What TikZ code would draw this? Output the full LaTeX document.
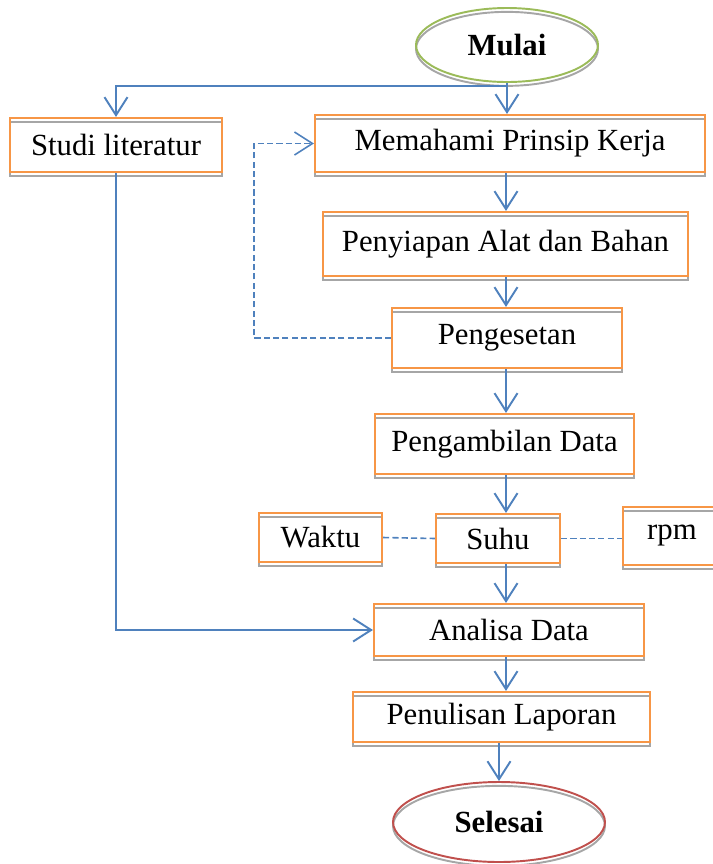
\documentclass[tikz,border=0pt]{standalone}
\usepackage{fontspec}
\setmainfont{Liberation Serif}
\usetikzlibrary{arrows.meta, positioning, calc, shapes.geometric}
\definecolor{boxborder}{HTML}{F79646}
\definecolor{shadowgray}{HTML}{A6A6A6}
\definecolor{flowblue}{HTML}{4F81BD}
\definecolor{startborder}{HTML}{9BBB59}
\definecolor{endborder}{HTML}{C0504D}
\tikzset{
  stepbox/.style={rectangle, draw=boxborder, line width=1.2pt, inner sep=0pt,
                  align=center, font=\fontsize{17.5}{20}\selectfont,
                  preaction={draw=shadowgray, line width=1.1pt,
                             transform canvas={yshift=-2.2pt}}},
  terminal/.style={ellipse, line width=1.1pt, inner sep=0pt,
                   font=\fontsize{17.5}{20}\selectfont\bfseries,
                   preaction={draw=shadowgray, line width=1.1pt,
                              transform canvas={yshift=-2.2pt}}},
  flow/.style={-{Straight Barb[length=3.6mm, width=4.6mm]}, line width=1.1pt, draw=flowblue},
  loopback/.style={flow, dash pattern=on 3.5pt off 1.8pt, line width=0.9pt},
  link/.style={draw=flowblue, dash pattern=on 3.5pt off 1.8pt, line width=0.9pt},
}
\def\loopgap{2.74cm}

\begin{document}
\begin{tikzpicture}
\clip (0,0) rectangle (14.26,-17.28);

% Start and the two branches
\node[terminal, draw=startborder, minimum width=3.64cm, minimum height=1.48cm]
  (mulai) at (10.14,-0.90) {Mulai};
\node[stepbox, minimum width=4.24cm, minimum height=1.08cm]
  (studi) at (2.32,-2.90) {Studi literatur};
\node[stepbox, minimum width=7.80cm, minimum height=1.14cm]
  (memahami) at (10.20,-2.87) {Memahami Prinsip Kerja};

% Main column
\node[stepbox, minimum width=7.30cm, minimum height=1.28cm]
  (penyiapan) at (10.11,-4.88) {Penyiapan Alat dan Bahan};
\node[stepbox, minimum width=4.60cm, minimum height=1.20cm]
  (pengesetan) at (10.14,-6.76) {Pengesetan};
\node[stepbox, minimum width=5.18cm, minimum height=1.20cm]
  (pengambilan) at (10.09,-8.88) {Pengambilan Data};

% Measured quantities
\node[stepbox, minimum width=2.46cm, minimum height=0.98cm]
  (waktu) at (6.41,-10.75) {Waktu};
\node[stepbox, minimum width=2.48cm, minimum height=0.98cm]
  (suhu) at (9.96,-10.77) {Suhu};
\node[stepbox, minimum width=1.96cm, minimum height=1.16cm]
  (rpm) at (13.44,-10.72) {rpm};

% Analysis and end
\node[stepbox, minimum width=5.40cm, minimum height=1.04cm]
  (analisa) at (10.18,-12.60) {Analisa Data};
\node[stepbox, minimum width=5.94cm, minimum height=1.00cm]
  (penulisan) at (10.03,-14.34) {Penulisan Laporan};
\node[terminal, draw=endborder, minimum width=4.24cm, minimum height=1.60cm]
  (selesai) at (9.98,-16.44) {Selesai};

% Flow
\coordinate (spine) at (10.12,0);
\coordinate (split) at ($(mulai.south)+(0,-0.06)$);
\draw[flow] (mulai.south) -- (mulai.south |- memahami.north);
\draw[flow] (split) -| (studi.north);
\foreach \a/\b in {memahami/penyiapan, penyiapan/pengesetan,
                   pengesetan/pengambilan, pengambilan/suhu,
                   suhu/analisa, analisa/penulisan} {
  \draw[flow] (\a.south -| spine) -- (\b.north -| spine);
}
\draw[flow] (penulisan.south -| selesai.north) -- (selesai.north);
\draw[flow] (studi.south) |- (analisa.west);
\draw[loopback] (pengesetan.west) -- ++(-\loopgap,0) |- (memahami.west);
\draw[link] (waktu.east) -- (suhu.west);
\draw[link] (suhu.east) -- (suhu.east -| rpm.west);

\end{tikzpicture}
\end{document}
